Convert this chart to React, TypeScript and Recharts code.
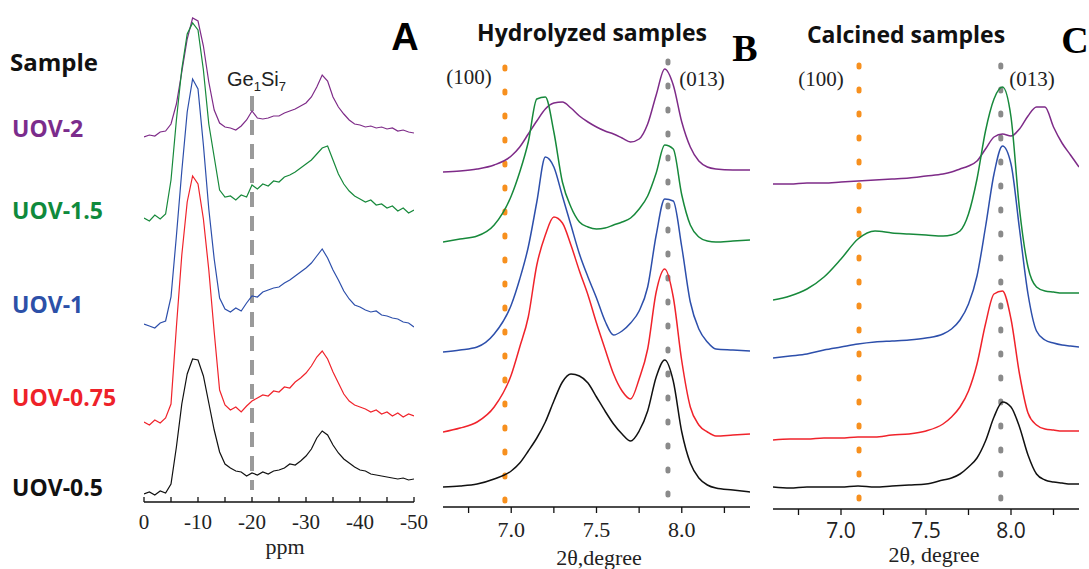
import React from "react";
import { LineChart, Line, XAxis, YAxis, ReferenceLine } from "recharts";

// Panel A: 29Si NMR, one reading per ppm from 0 to -50 (intensity, stacked a.u.)
const ppm = Array.from({ length: 51 }, (_, i) => -i);
const nmr05 = [8, 10, 7, 11, 9, 18, 55, 98, 128, 143, 142, 126, 99, 72, 50, 38, 34, 31, 30, 26, 29, 27, 30, 28, 31, 32, 34, 38, 37, 41, 46, 53, 64, 71, 67, 57, 49, 43, 39, 35, 32, 31, 28, 27, 26, 25, 24, 23, 24, 22, 23];
const nmr075 = [80, 77, 82, 79, 84, 98, 175, 247, 300, 326, 318, 283, 232, 170, 112, 97, 92, 95, 90, 96, 101, 104, 107, 106, 111, 110, 115, 114, 120, 124, 129, 136, 145, 151, 143, 130, 119, 108, 101, 97, 95, 93, 90, 92, 88, 90, 86, 89, 85, 88, 86];
const nmr1 = [178, 176, 174, 179, 181, 205, 266, 331, 390, 423, 413, 357, 293, 243, 204, 193, 190, 194, 191, 199, 206, 205, 210, 212, 214, 215, 219, 222, 226, 230, 234, 239, 246, 253, 244, 232, 222, 211, 203, 197, 195, 192, 190, 191, 187, 186, 184, 183, 180, 179, 175];
const nmr15 = [284, 281, 287, 283, 288, 322, 382, 433, 468, 479, 472, 432, 378, 345, 312, 305, 306, 302, 307, 305, 317, 313, 318, 316, 321, 320, 325, 327, 330, 334, 338, 342, 348, 354, 356, 342, 328, 318, 311, 306, 303, 300, 302, 297, 298, 294, 296, 291, 294, 289, 292];
const nmr2 = [365, 367, 366, 370, 371, 378, 398, 430, 463, 484, 481, 456, 420, 392, 379, 375, 374, 372, 376, 382, 391, 384, 383, 384, 386, 386, 389, 391, 393, 396, 399, 405, 415, 427, 421, 405, 395, 388, 382, 378, 377, 375, 376, 374, 375, 373, 374, 371, 372, 370, 369];
const ppmTicks = [0, -5, -10, -15, -20, -25, -30, -35, -40, -45, -50];

// Panel B: hydrolyzed samples, XRD
const thetaB = [6.6, 6.7, 6.8, 6.9, 7.0, 7.05, 7.1, 7.15, 7.2, 7.25, 7.3, 7.35, 7.4, 7.45, 7.5, 7.55, 7.6, 7.65, 7.7, 7.75, 7.8, 7.85, 7.9, 7.95, 8.0, 8.05, 8.1, 8.15, 8.2, 8.3, 8.4];
const hyd05 = [20, 21, 23, 28, 36, 44, 56, 69, 85, 106, 125, 133, 131, 124, 110, 96, 83, 73, 66, 76, 96, 130, 147, 126, 75, 44, 29, 22, 19, 17, 15];
const hyd075 = [75, 79, 85, 100, 132, 160, 190, 242, 272, 290, 284, 262, 236, 212, 184, 158, 133, 116, 108, 128, 158, 215, 238, 210, 146, 100, 82, 75, 71, 72, 73];
const hyd1 = [155, 157, 160, 173, 202, 228, 260, 305, 350, 340, 311, 282, 253, 230, 209, 186, 172, 176, 184, 196, 220, 272, 308, 306, 260, 205, 178, 165, 158, 157, 156];
const hyd15 = [265, 268, 271, 282, 311, 335, 365, 408, 410, 375, 325, 300, 285, 280, 278, 279, 282, 285, 289, 298, 311, 334, 362, 358, 312, 282, 270, 266, 265, 266, 267];
const hyd2 = [335, 336, 338, 342, 351, 360, 373, 386, 398, 404, 405, 399, 391, 385, 380, 376, 373, 369, 365, 368, 383, 412, 438, 422, 385, 360, 346, 340, 338, 337, 337];

// Panel C: calcined samples, XRD
const thetaC = [6.6, 6.7, 6.8, 6.9, 7.0, 7.1, 7.2, 7.3, 7.4, 7.5, 7.6, 7.65, 7.7, 7.75, 7.8, 7.85, 7.9, 7.95, 8.0, 8.05, 8.1, 8.15, 8.2, 8.25, 8.3, 8.35, 8.4];
const cal05 = [22, 21, 22, 22, 22, 23, 22, 23, 24, 25, 29, 31, 35, 42, 51, 68, 92, 107, 102, 82, 54, 35, 29, 27, 26, 25, 25];
const cal075 = [69, 70, 70, 71, 71, 72, 72, 74, 75, 78, 85, 92, 102, 118, 145, 185, 215, 218, 190, 135, 96, 84, 80, 79, 78, 78, 78];
const cal1 = [151, 153, 155, 159, 162, 165, 167, 168, 169, 171, 175, 180, 189, 205, 233, 282, 335, 363, 345, 280, 215, 178, 169, 166, 164, 163, 162];
const cal15 = [209, 213, 220, 232, 250, 270, 278, 276, 275, 274, 273, 274, 278, 295, 330, 378, 410, 422, 392, 300, 242, 222, 218, 217, 216, 216, 216];
const cal2 = [325, 325, 326, 326, 327, 328, 329, 330, 331, 333, 335, 337, 340, 343, 348, 360, 372, 375, 373, 380, 393, 402, 402, 382, 366, 354, 342];
const thetaTicks = [6.75, 7.0, 7.25, 7.5, 7.75, 8.0, 8.25];

const samples = ["UOV-2", "UOV-1.5", "UOV-1", "UOV-0.75", "UOV-0.5"];
const keys = ["s2", "s15", "s1", "s075", "s05"];
const colors = ["#7e2b88", "#17893b", "#2d4fab", "#f0232b", "#111111"];
const labelColors = ["#7b2c8c", "#0f8a3c", "#2c50a8", "#ee2229", "#111111"];

const tableA = ppm.map((x, i) => ({ x, s05: nmr05[i], s075: nmr075[i], s1: nmr1[i], s15: nmr15[i], s2: nmr2[i] }));
const tableB = thetaB.map((x, i) => ({ x, s05: hyd05[i], s075: hyd075[i], s1: hyd1[i], s15: hyd15[i], s2: hyd2[i] }));
const tableC = thetaC.map((x, i) => ({ x, s05: cal05[i], s075: cal075[i], s1: cal1[i], s15: cal15[i], s2: cal2[i] }));

const SERIF = "'Liberation Serif', 'Times New Roman', serif";
const SANS = "'Open Sans', 'Noto Sans', sans-serif";

function makeTick(opts: { up: boolean; offset: number; font: string; size: number; show: (v: number) => string }) {
  return (props: any) => {
    const { x, y, payload } = props;
    const label = opts.show(payload.value);
    return (
      <g>
        <line x1={x} x2={x} y1={y} y2={opts.up ? y - 5 : y + 6} stroke="#111" strokeWidth={1.3} />
        {label && (
          <text x={x} y={y + opts.offset} textAnchor="middle" dominantBaseline="central"
            fontFamily={opts.font} fontSize={opts.size} fill="#222">
            {label}
          </text>
        )}
      </g>
    );
  };
}

const half = (v: number) => (Math.abs(v * 2 - Math.round(v * 2)) < 1e-6 ? v.toFixed(1) : "");
const tickA = makeTick({ up: true, offset: 20, font: SERIF, size: 21, show: (v) => (v % 10 === 0 ? String(v) : "") });
const tickB = makeTick({ up: false, offset: 22, font: SERIF, size: 22, show: half });
const tickC = makeTick({ up: false, offset: 21, font: SANS, size: 21, show: half });

const box: React.CSSProperties = { position: "absolute", left: 0, top: 0 };

function Traces(width: number, curve: "linear" | "monotone") {
  return keys.map((k, i) => (
    <Line key={k} type={curve} dataKey={k} stroke={colors[i]} strokeWidth={width} dot={false} isAnimationActive={false} />
  ));
}

function dotted(x: number, top: number, color: string) {
  return (
    <ReferenceLine
      segment={[{ x, y: top }, { x, y: 0 }]}
      stroke={color}
      strokeWidth={5}
      strokeDasharray="2 22"
      strokeLinecap="round"
      ifOverflow="visible"
    />
  );
}

export default function App() {
  return (
    <div style={{ ...box, width: 1089, height: 569, background: "#fff", overflow: "hidden" }}>
      <div style={box}>
        <LineChart width={1089} height={569} data={tableA} margin={{ top: 2, left: 144, right: 675, bottom: 0 }}>
          <XAxis dataKey="x" type="number" domain={[-50, 0]} reversed ticks={ppmTicks} interval={0}
            tickSize={0} tickMargin={0} tick={tickA} height={67} axisLine={{ stroke: "#111", strokeWidth: 1.3 }} allowDataOverflow />
          <YAxis hide type="number" domain={[0, 500]} allowDataOverflow />
          <ReferenceLine segment={[{ x: -20, y: 406 }, { x: -20, y: 12 }]} stroke="#9a9a9a" strokeWidth={4} strokeDasharray="15 9" ifOverflow="visible" />
          {Traces(1.2, "linear")}
        </LineChart>
      </div>
      <div style={box}>
        <LineChart width={1089} height={569} data={tableB} margin={{ top: 7, left: 443, right: 339, bottom: 0 }}>
          <XAxis dataKey="x" type="number" domain={[6.6, 8.4]} ticks={thetaTicks} interval={0}
            tickSize={0} tickMargin={0} tick={tickB} height={62} axisLine={{ stroke: "#111", strokeWidth: 1.3 }} allowDataOverflow />
          <YAxis hide type="number" domain={[0, 500]} allowDataOverflow />
          {dotted(6.963, 440, "#f7901e")}
          {dotted(7.919, 446, "#8a8a8a")}
          {Traces(1.5, "monotone")}
        </LineChart>
      </div>
      <div style={box}>
        <LineChart width={1089} height={569} data={tableC} margin={{ top: 9, left: 773, right: 10, bottom: 0 }}>
          <XAxis dataKey="x" type="number" domain={[6.6, 8.4]} ticks={thetaTicks} interval={0}
            tickSize={0} tickMargin={0} tick={tickC} height={60} axisLine={{ stroke: "#111", strokeWidth: 1.3 }} allowDataOverflow />
          <YAxis hide type="number" domain={[0, 500]} allowDataOverflow />
          {dotted(7.106, 444, "#f7901e")}
          {dotted(7.94, 444, "#8a8a8a")}
          {Traces(1.5, "monotone")}
        </LineChart>
      </div>
      <svg width={1089} height={569} style={{ ...box, pointerEvents: "none" }}>
        <text x={10} y={61} dominantBaseline="central" fontFamily={SANS} fontWeight={700} fontSize={24} fill="#111">Sample</text>
        {samples.map((s, i) => (
          <text key={s} x={12} y={[128, 210, 304, 397, 487][i]} dominantBaseline="central" fontFamily={SANS}
            fontWeight={700} fontSize={23} fill={labelColors[i]}>{s}</text>
        ))}
        <text x={405} y={37} textAnchor="middle" dominantBaseline="central" fontFamily="'Liberation Sans', Arial, sans-serif" fontWeight={700} fontSize={38} fill="#000">A</text>
        <text x={227} y={79} dominantBaseline="central" fontFamily="'Liberation Sans', Arial, sans-serif" fontSize={20} fill="#222">
          Ge<tspan fontSize={13} dy={7}>1</tspan><tspan dy={-7}>Si</tspan><tspan fontSize={13} dy={7}>7</tspan>
        </text>
        <text x={285} y={546} textAnchor="middle" dominantBaseline="central" fontFamily={SERIF} fontSize={22} fill="#222">ppm</text>

        <text x={592} y={32} textAnchor="middle" dominantBaseline="central" fontFamily={SANS} fontWeight={700} fontSize={23} fill="#111">Hydrolyzed samples</text>
        <text x={745} y={48} textAnchor="middle" dominantBaseline="central" fontFamily={SERIF} fontWeight={700} fontSize={38} fill="#000">B</text>
        <text x={469} y={77} textAnchor="middle" dominantBaseline="central" fontFamily={SERIF} fontSize={21} fill="#222">(100)</text>
        <text x={702} y={79} textAnchor="middle" dominantBaseline="central" fontFamily={SERIF} fontSize={21} fill="#222">(013)</text>
        <text x={599} y={557} textAnchor="middle" dominantBaseline="central" fontFamily={SERIF} fontSize={22} fill="#222">2θ,degree</text>

        <text x={906} y={34} textAnchor="middle" dominantBaseline="central" fontFamily={SANS} fontWeight={700} fontSize={23} fill="#111">Calcined samples</text>
        <text x={1075} y={40} textAnchor="middle" dominantBaseline="central" fontFamily={SERIF} fontWeight={700} fontSize={38} fill="#000">C</text>
        <text x={821} y={79} textAnchor="middle" dominantBaseline="central" fontFamily={SERIF} fontSize={21} fill="#222">(100)</text>
        <text x={1032} y={79} textAnchor="middle" dominantBaseline="central" fontFamily={SERIF} fontSize={21} fill="#222">(013)</text>
        <text x={934} y={554} textAnchor="middle" dominantBaseline="central" fontFamily={SERIF} fontSize={22} fill="#222">2θ, degree</text>
      </svg>
    </div>
  );
}
